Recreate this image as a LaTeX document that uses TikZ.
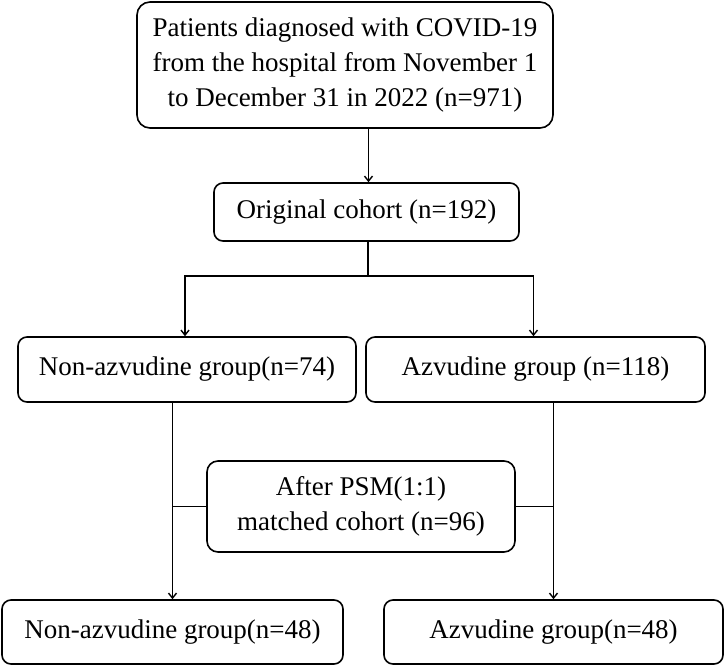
\documentclass[tikz,border=0pt]{standalone}
\usepackage{fontspec}
\setmainfont{Liberation Serif}
\usetikzlibrary{positioning,arrows.meta,calc}

\begin{document}
\begin{tikzpicture}[x=1pt,y=-1pt,
          every node/.style={font=\fontsize{27}{35}\selectfont},
          box/.style={draw=black,line width=1.6pt,rounded corners=9pt,align=center,inner sep=0pt},
          ar/.style={-{Straight Barb[length=5pt,width=8pt]},line width=1.4pt},
          ln/.style={line width=1.4pt}]
        \useasboundingbox (0,0) rectangle (726,667);
        \node[box, rounded corners=13pt, minimum width=416pt, minimum height=126pt]
        (top)  at (345,65)    {Patients diagnosed with COVID-19\\from the hospital from November 1\\to December 31 in 2022 (n=971)};
        \node[box, minimum width=305pt, minimum height=58pt]
        (orig) at (366.5,212) {Original cohort (n=192)};
        \node[box, minimum width=338pt, minimum height=65pt]
        (nong) at (187,369.5) {Non-azvudine group(n=74)};
        \node[box, minimum width=339pt, minimum height=65pt]
        (azvg) at (535.5,369.5) {Azvudine group (n=118)};
        \node[box, rounded corners=11pt, minimum width=308pt, minimum height=91pt]
        (psm)  at (361,506.5) {After PSM(1:1)\\matched cohort (n=96)};
        \node[box, minimum width=341pt, minimum height=64pt]
        (nonm) at (172.5,632) {Non-azvudine group(n=48)};
        \node[box, minimum width=339pt, minimum height=64pt]
        (azvm) at (553.5,632) {Azvudine group(n=48)};

        \coordinate (split) at (368,276);
        \draw[ar] ([xshift=2pt]orig.north |- top.south) -- ([xshift=2pt]orig.north);
        \draw[ln] (split |- orig.south) -- (split);
        \draw[ar] (split) -| ([xshift=-2pt]nong.north);
        \draw[ar] (split) -| ([xshift=-2pt]azvg.north);
        \draw[ar] (nong.south -| nonm) -- (nonm.north);
        \draw[ar] (azvg.south -| azvm) -- (azvm.north);
        \draw[ln] (psm.west) -- (psm.west -| nonm);
        \draw[ln] (psm.east) -- (psm.east -| azvm);
      \end{tikzpicture}
\end{document}
